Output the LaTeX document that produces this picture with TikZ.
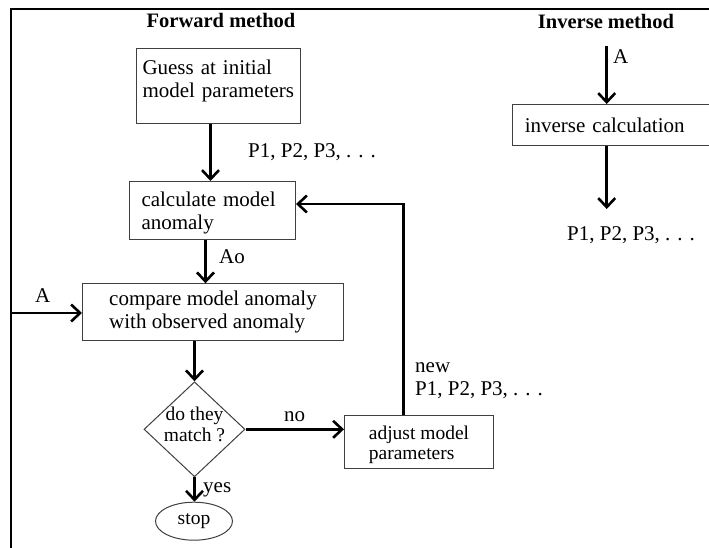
\documentclass[tikz,border=0pt]{standalone}
\usepackage{fontspec}
\setmainfont{Liberation Serif}
\usetikzlibrary{arrows.meta,shapes.geometric}
\newcommand{\lgf}{\fontsize{21}{23}\selectfont}
\newcommand{\smf}{\fontsize{19.5}{20.5}\selectfont}
\newcommand{\hdf}{\fontsize{20.5}{23}\selectfont}
\begin{document}
\begin{tikzpicture}[x=1pt,y=-1pt,
  box/.style={draw=black!75, line width=1pt, inner ysep=0pt, align=left, font=\lgf},
  arr/.style={line width=2.6pt, -{Straight Barb[length=9pt,width=17pt]}},
  frameline/.style={line width=2pt},
  lbl/.style={inner sep=0pt, anchor=base west, font=\lgf},
  head/.style={inner sep=0pt, anchor=base, font=\hdf\bfseries}]
\useasboundingbox (0,0) rectangle (709,548);
\fill[white] (0,0) rectangle (709,548);
% frame
\coordinate (fTL) at (11,9);
\draw[frameline] (11,548) -- (fTL) -- (709,9);
% headings
\node[head] (hf) at (221,28) {Forward method};
\node[head] (hi) at (606,29) {Inverse method};
% forward boxes
\node[box, anchor=north west, text width=152pt, inner xsep=6pt, minimum height=75pt, text depth=37pt] (guess) at (136,47.7) {Guess at initial\\model parameters};
\node[box, anchor=north west, text width=142pt, inner xsep=12pt, minimum height=58pt, text depth=23.3pt] (calc) at (129,181) {calculate model\\anomaly};
\node[box, anchor=north west, minimum width=261pt, minimum height=57pt] (compare) at (82,283.3) {compare model anomaly\\with observed anomaly};
\node[draw=black!75, line width=1pt, diamond, aspect=1.07, inner sep=0pt, minimum width=101pt, minimum height=95pt] (dia) at (194.5,429.3) {};
\node[inner sep=0pt, align=center, font=\smf] (diat) at (194.5,424.5) {do they\\match ?};
\node[draw=black!75, line width=1pt, ellipse, inner sep=0pt, minimum width=77pt, minimum height=38pt, font=\smf] (stop) at (194,521.2) {stop};
\node[box, font=\smf, anchor=north west, minimum width=149pt, minimum height=53pt, text height=40pt] (adjust) at (344,415) {adjust model\\parameters};
% inverse box
\node[box, anchor=north west, text width=172.5pt, inner xsep=12pt, minimum height=41pt] (inv) at (512.3,104) {inverse calculation};
% connectors
\draw[arr] ([xshift=-8pt]guess.south) -- ([xshift=-2pt]calc.north);
\draw[arr] ([xshift=-7pt]calc.south) -- ([xshift=-7pt]calc.south |- compare.north);
\coordinate (Ain) at (11,313);
\draw[arr] (Ain) -- (Ain -| compare.west);
\draw[arr] (dia.north |- compare.south) -- (dia.north);
\draw[arr] (dia.east) -- (dia.east -| adjust.west);
\draw[arr] (dia.south) -- (dia.south |- stop.north);
\coordinate (lp) at (403.3,204);
\draw[arr] (lp |- adjust.north) -- (lp) -- (lp -| calc.east);
\coordinate (iA) at (606.7,46.5);
\coordinate (iB) at (606.7,209);
\draw[arr] (iA) -- (iA |- inv.north);
\draw[arr] (iB |- inv.south) -- (iB);
% labels
\node[lbl] (lp1) at (248,158) {P1, P2, P3, . . .};
\node[lbl] (lao) at (219,263) {Ao};
\node[lbl] (la) at (35,302) {A};
\node[lbl] (lno) at (284,421.7) {no};
\node[lbl] (lyes) at (203,492) {yes};
\node[lbl] (lnew) at (415,372) {new};
\node[lbl] (lnp) at (415,395) {P1, P2, P3, . . .};
\node[lbl] (lia) at (613,64) {A};
\node[lbl] (lip) at (567,240) {P1, P2, P3, . . .};
\end{tikzpicture}
\end{document}
